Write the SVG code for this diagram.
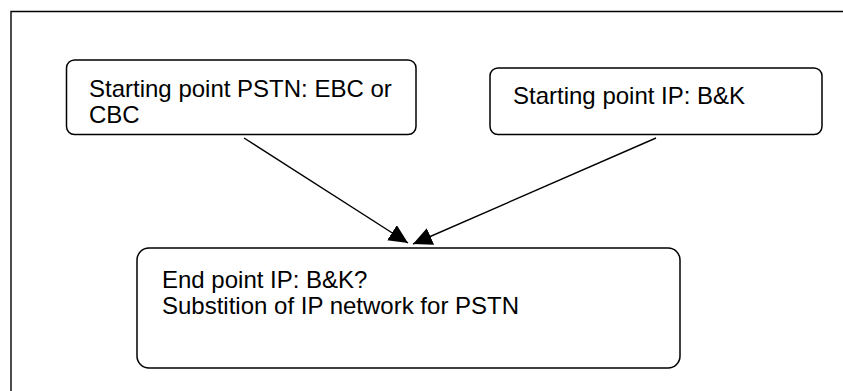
<svg xmlns="http://www.w3.org/2000/svg" width="843" height="391" viewBox="0 0 843 391">
<defs>
<style>
.box{fill:#fff;stroke:#000;stroke-width:1.5}
.t{font-family:"Liberation Sans",Arial,sans-serif;font-size:24px;fill:#000}
.ln{stroke:#000;stroke-width:1.4;fill:none}
</style>
<marker id="ah" viewBox="0 0 19 18" refX="19" refY="9" markerWidth="19" markerHeight="18" markerUnits="userSpaceOnUse" orient="auto">
<path d="M0,0 L19,9 L0,18 z" fill="#000"/>
</marker>
</defs>
<rect width="843" height="391" fill="#fff"/>
<path d="M11,400 L11,11.5 L850,11.5" class="ln"/>
<g id="connectors">
<line x1="244" y1="138" x2="408" y2="243" class="ln" marker-end="url(#ah)"/>
<line x1="656" y1="138" x2="413" y2="244" class="ln" marker-end="url(#ah)"/>
</g>
<g id="node1">
<rect x="66.5" y="60" width="349.5" height="74.5" rx="8" class="box"/>
<text class="t" x="89" y="97">Starting point PSTN: EBC or</text>
<text class="t" x="89" y="123">CBC</text>
</g>
<g id="node2">
<rect x="490" y="68" width="332" height="66.5" rx="8" class="box"/>
<text class="t" x="513" y="104">Starting point IP: B&amp;K</text>
</g>
<g id="node3">
<rect x="137" y="248" width="543" height="120" rx="12" class="box"/>
<text class="t" x="162" y="288">End point IP: B&amp;K?</text>
<text class="t" x="162" y="314">Substition of IP network for PSTN</text>
</g>
</svg>
